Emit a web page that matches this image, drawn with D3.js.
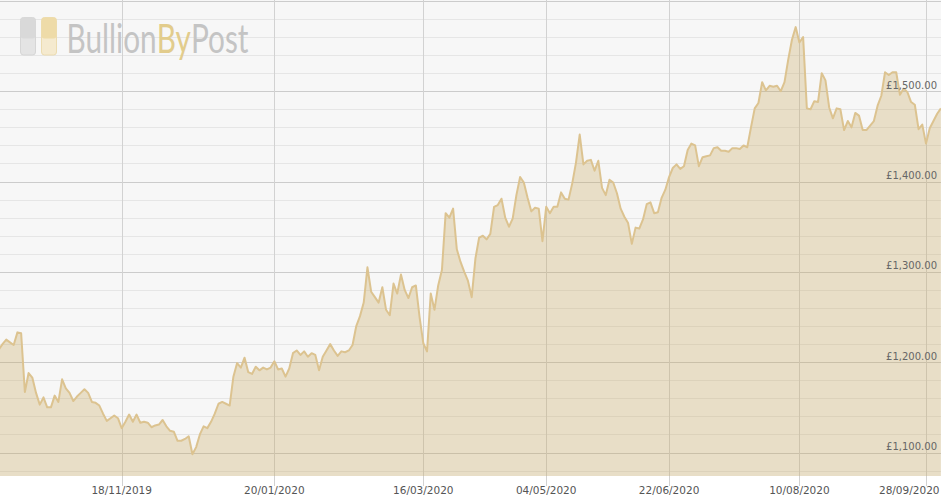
<!DOCTYPE html>
<html><head><meta charset="utf-8">
<script src="https://cdn.jsdelivr.net/npm/d3@7"></script>
<style>html,body{margin:0;padding:0;background:#fff;overflow:hidden}svg{display:block}</style>
</head><body>
<svg id="chart" width="941" height="503"></svg>
<script>
// ---- DATA ----
// Gold price (GBP/oz), one value per trading day, 02/10/2019 .. 02/10/2020
const prices = [
 1214,1220,1225,1222,1219,1233,1232,1167,1188,1183,
 1166,1153,1161,1150,1150,1163,1156,1181,1171,1166,
 1157,1162,1166,1170,1166,1156,1155,1152,1143,1135,
 1138,1141,1138,1127,1134,1142,1134,1142,1133,1134,
 1133,1128,1130,1131,1136,1129,1124,1123,1113,1113,
 1115,1118,1098,1106,1120,1129,1127,1134,1143,1154,
 1156,1154,1152,1184,1199,1194,1205,1189,1187,1195,
 1191,1194,1192,1194,1201,1192,1193,1184,1193,1210,
 1213,1208,1212,1206,1210,1208,1191,1206,1213,1220,
 1213,1207,1212,1211,1213,1219,1240,1251,1266,1305,
 1278,1272,1266,1283,1258,1252,1287,1276,1297,1280,
 1271,1283,1285,1250,1221,1212,1276,1258,1285,1302,
 1365,1360,1370,1325,1311,1300,1290,1272,1315,1338,
 1340,1336,1342,1372,1374,1381,1360,1350,1359,1385,
 1405,1399,1382,1367,1371,1370,1334,1372,1365,1372,
 1372,1388,1381,1380,1398,1421,1452,1419,1423,1424,
 1412,1423,1393,1385,1402,1399,1387,1370,1361,1354,
 1331,1349,1348,1358,1375,1377,1365,1366,1382,1391,
 1405,1415,1419,1414,1417,1435,1442,1440,1417,1427,
 1428,1429,1437,1438,1434,1434,1433,1437,1437,1436,
 1440,1438,1460,1481,1487,1510,1501,1506,1505,1506,
 1500,1510,1535,1557,1571,1554,1560,1481,1480,1489,
 1488,1520,1512,1482,1470,1481,1480,1457,1467,1460,
 1476,1473,1457,1457,1462,1467,1484,1495,1521,1518,
 1521,1521,1496,1503,1499,1488,1485,1458,1463,1442,
 1459,1467,1475,1481
];
const startDate = "2019-10-02";
const endDate = "2020-10-02";
const holidays = ["2019-12-25","2019-12-26","2019-12-31","2020-01-01",
  "2020-04-10","2020-04-13","2020-05-08","2020-05-25","2020-08-31"];
const xTickLabels = ["18/11/2019","20/01/2020","16/03/2020","04/05/2020","22/06/2020","10/08/2020","28/09/2020"];
const yLabelTicks = [1100,1200,1300,1400,1500];
const yMajorTicks = [1100,1200,1300,1400,1500,1600];
const yMinorTicks = [1080,1120,1140,1160,1180,1220,1240,1260,1280,1320,1340,1360,1380,
  1420,1440,1460,1480,1520,1540,1560,1580];
const yDomain = [1074, 1601];
const logoParts = [["Bullion", "#c4c4c4"], ["By", "#e2cc8c"], ["Post", "#c4c4c4"]];

// ---- CHART ----
const W = 941, H = 503, plotBottom = 476;
const svg = d3.select("#chart");
const parse = d3.timeParse("%Y-%m-%d");
const keyFmt = d3.timeFormat("%Y-%m-%d");
const labelFmt = d3.timeFormat("%d/%m/%Y");
const hol = new Set(holidays);
const dates = d3.timeDay.range(parse(startDate), d3.timeDay.offset(parse(endDate), 1))
  .filter(d => d.getDay() !== 0 && d.getDay() !== 6 && !hol.has(keyFmt(d)));
const n = Math.min(dates.length, prices.length);
const data = d3.range(n).map(i => ({ i, date: dates[i], v: prices[i] }));

const x = d3.scaleLinear().domain([0, n - 1]).range([-1.2, 940.9]);
const y = d3.scaleLinear().domain(yDomain).range([plotBottom, 0]);

// plot background
svg.append("rect").attr("x", 0).attr("y", 0).attr("width", W).attr("height", plotBottom).attr("fill", "#f7f7f7");

const crisp = v => Math.round(v) + 0.5;
const grid = svg.append("g").attr("shape-rendering", "crispEdges");
grid.selectAll("line.minor").data(yMinorTicks).join("line").attr("class", "minor")
  .attr("x1", 0).attr("x2", W).attr("y1", d => crisp(y(d))).attr("y2", d => crisp(y(d)))
  .attr("stroke", "#e6e6e6");
grid.selectAll("line.major").data(yMajorTicks).join("line").attr("class", "major")
  .attr("x1", 0).attr("x2", W).attr("y1", d => Math.max(0.5, crisp(y(d)))).attr("y2", d => Math.max(0.5, crisp(y(d))))
  .attr("stroke", "#cccccc");

// x ticks
const tickIdx = xTickLabels.map(l => data.findIndex(d => labelFmt(d.date) === l)).filter(i => i >= 0);
grid.selectAll("line.vx").data(tickIdx).join("line").attr("class", "vx")
  .attr("x1", d => crisp(x(d))).attr("x2", d => crisp(x(d)))
  .attr("y1", 0).attr("y2", 486).attr("stroke", "#d2d2d2");

// area + line
const area = d3.area().x(d => x(d.i)).y0(plotBottom).y1(d => y(d.v));
const line = d3.line().x(d => x(d.i)).y(d => y(d.v));
svg.append("path").datum(data).attr("d", area).attr("fill", "rgb(200,165,90)").attr("fill-opacity", 0.3);
svg.append("path").datum(data).attr("d", line).attr("fill", "none")
  .attr("stroke", "#dcc390").attr("stroke-width", 2).attr("stroke-linejoin", "round");

// logo watermark
const logo = svg.append("g");
logo.append("rect").attr("x", 20.5).attr("y", 17.5).attr("width", 15).attr("height", 37.5).attr("rx", 3)
  .attr("fill", "#e4e4e4").attr("stroke", "#d6d6d6");
logo.append("rect").attr("x", 20.5).attr("y", 17.5).attr("width", 15).attr("height", 21).attr("rx", 3)
  .attr("fill", "#d9d9d9");
logo.append("rect").attr("x", 41.5).attr("y", 17.5).attr("width", 15).attr("height", 37.5).attr("rx", 3)
  .attr("fill", "#f5eacf").attr("stroke", "#ecdcb0");
logo.append("rect").attr("x", 41.5).attr("y", 17.5).attr("width", 15).attr("height", 21).attr("rx", 3)
  .attr("fill", "#eedba8");
const lg = logo.append("g");
let cum = 0;
logoParts.forEach(([t, c]) => {
  const el = lg.append("text").attr("x", cum).attr("y", 0)
    .attr("font-family", "Lato, 'Open Sans', sans-serif").attr("font-weight", 400)
    .attr("font-size", 41).attr("fill", c).text(t);
  cum += el.node().getComputedTextLength();
});
lg.attr("transform", `translate(66.5,52.5) scale(${182 / cum},1)`);

// x labels
const xl = svg.append("g").attr("font-family", "'DejaVu Sans', Verdana, sans-serif")
  .attr("font-size", 10.5).attr("fill", "#555");
xl.selectAll("text").data(tickIdx).join("text")
  .attr("y", 494.3).attr("text-anchor", "middle")
  .text(d => labelFmt(data[d].date))
  .attr("x", function(d) {
    const w = this.getComputedTextLength();
    let cx = x(d);
    if (cx + w / 2 > 939.5) cx = 939.5 - w / 2;
    return cx;
  });

// y labels
const money = v => "£" + d3.format(",.2f")(v);
svg.append("g").attr("font-family", "'DejaVu Sans', Verdana, sans-serif")
  .attr("font-size", 10).attr("fill", "#666")
  .selectAll("text").data(yLabelTicks).join("text")
  .attr("x", 937).attr("y", d => y(d) - 2.5).attr("text-anchor", "end")
  .text(d => money(d));
</script>
</body></html>
